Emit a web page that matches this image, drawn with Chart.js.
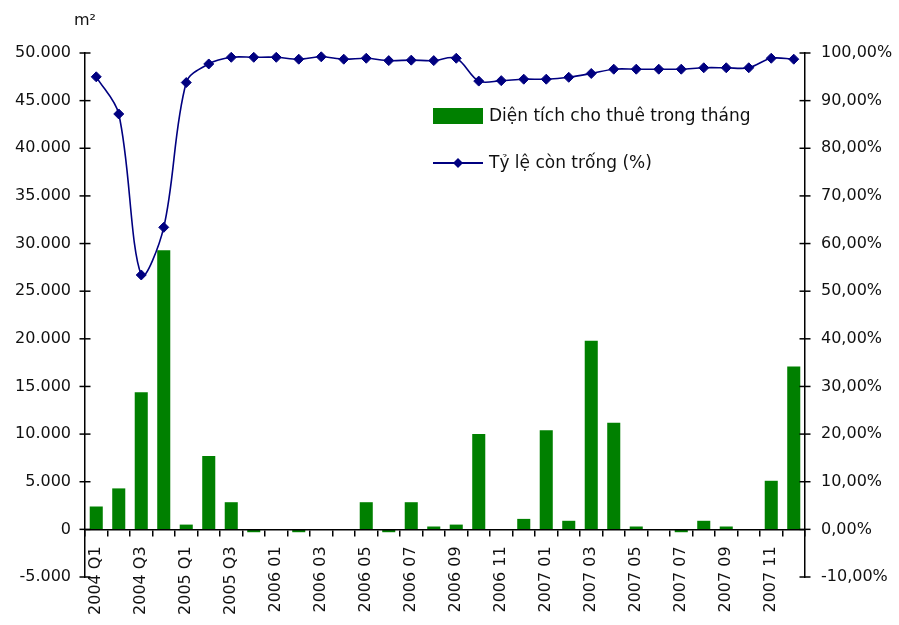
<!DOCTYPE html>
<html lang="vi">
<head>
<meta charset="utf-8">
<title>Diện tích cho thuê và tỷ lệ còn trống</title>
<script src="https://cdn.jsdelivr.net/npm/chart.js@4.4.1/dist/chart.umd.min.js"></script>
<style>
  html, body { margin: 0; padding: 0; background: #ffffff; }
  #wrap { width: 899px; height: 625px; }
</style>
</head>
<body>
<div id="wrap"><canvas id="chart" width="899" height="625"></canvas></div>
<script>
// Periods: quarterly for 2004-2005, monthly for 2006-2007
const categories = [
  '2004 Q1', '2004 Q2', '2004 Q3', '2004 Q4',
  '2005 Q1', '2005 Q2', '2005 Q3', '2005 Q4',
  '2006 01', '2006 02', '2006 03', '2006 04', '2006 05', '2006 06',
  '2006 07', '2006 08', '2006 09', '2006 10', '2006 11', '2006 12',
  '2007 01', '2007 02', '2007 03', '2007 04', '2007 05', '2007 06',
  '2007 07', '2007 08', '2007 09', '2007 10', '2007 11', '2007 12'
];

// Leased floor area in the period (m²)
const leasedArea = [
  2400, 4300, 14400, 29300,
  500, 7700, 2850, -300,
  0, -300, 0, 0, 2850, -300,
  2850, 300, 500, 10000, 0, 1100,
  10400, 900, 19800, 11200, 300, 0,
  -300, 900, 300, 0, 5100, 17100
];

// Vacancy rate (%)
const vacancyRate = [
  95.0, 87.2, 53.4, 63.4,
  93.8, 97.7, 99.1, 99.1,
  99.1, 98.7, 99.2, 98.7, 98.9, 98.4,
  98.5, 98.4, 98.9, 94.1, 94.2, 94.5,
  94.5, 94.9, 95.7, 96.6, 96.6, 96.6,
  96.6, 96.9, 96.9, 96.9, 98.9, 98.7
];

// Axis tick values
const areaTicks = [-5000, 0, 5000, 10000, 15000, 20000, 25000, 30000, 35000, 40000, 45000, 50000];
const rateTicks = [-10, 0, 10, 20, 30, 40, 50, 60, 70, 80, 90, 100];

const FONT = "'DejaVu Sans', Verdana, sans-serif";
const TEXT = '#111111';

function formatArea(v) {
  const sign = v < 0 ? '-' : '';
  const digits = String(Math.abs(v));
  return sign + digits.replace(/\B(?=(\d{3})+(?!\d))/g, '.');
}
function formatRate(v) {
  return v.toFixed(2).replace('.', ',') + '%';
}

// Small cross-ticks on both value axes
const axisTicks = {
  id: 'axisTicks',
  afterDraw(chart) {
    const ctx = chart.ctx;
    ctx.save();
    ctx.strokeStyle = '#000';
    ctx.lineWidth = 1.5;
    ['y', 'y1'].forEach(id => {
      const s = chart.scales[id];
      const x = id === 'y' ? s.right : s.left;
      s.ticks.forEach(t => {
        const py = s.getPixelForValue(t.value);
        ctx.beginPath();
        ctx.moveTo(x - 5.5, py);
        ctx.lineTo(x + 5.5, py);
        ctx.stroke();
      });
    });
    ctx.restore();
  }
};

// Unit caption above the left axis
const unitLabel = {
  id: 'unitLabel',
  afterDraw(chart, args, opts) {
    const ctx = chart.ctx;
    const s = chart.scales.y;
    ctx.save();
    ctx.fillStyle = TEXT;
    ctx.font = '16px ' + FONT;
    ctx.textAlign = 'left';
    ctx.textBaseline = 'alphabetic';
    ctx.fillText(opts.text, s.right - 11, chart.chartArea.top - 28);
    ctx.restore();
  }
};

// Legend drawn inside the plot area
const insetLegend = {
  id: 'insetLegend',
  afterDraw(chart, args, opts) {
    const { ctx, chartArea } = chart;
    const x0 = chartArea.left + opts.left;
    let y = chartArea.top + opts.top;
    ctx.save();
    ctx.font = opts.fontSize + 'px ' + FONT;
    ctx.textBaseline = 'middle';
    ctx.textAlign = 'left';
    chart.data.datasets.forEach(ds => {
      if (ds.type === 'line') {
        ctx.strokeStyle = ds.borderColor;
        ctx.lineWidth = 2;
        ctx.beginPath();
        ctx.moveTo(x0, y);
        ctx.lineTo(x0 + opts.symbolWidth, y);
        ctx.stroke();
        const cx = x0 + opts.symbolWidth / 2, r = ds.pointRadius;
        ctx.fillStyle = ds.pointBackgroundColor;
        ctx.beginPath();
        ctx.moveTo(cx, y - r);
        ctx.lineTo(cx + r, y);
        ctx.lineTo(cx, y + r);
        ctx.lineTo(cx - r, y);
        ctx.closePath();
        ctx.fill();
      } else {
        ctx.fillStyle = ds.backgroundColor;
        ctx.fillRect(x0, y - 8, opts.symbolWidth, 16);
      }
      ctx.fillStyle = TEXT;
      ctx.fillText(ds.label, x0 + opts.symbolWidth + 6, y + 1);
      y += opts.rowGap;
    });
    ctx.restore();
  }
};

Chart.defaults.font.family = FONT;
Chart.defaults.font.size = 16;
Chart.defaults.color = TEXT;

new Chart(document.getElementById('chart'), {
  type: 'bar',
  data: {
    labels: categories,
    datasets: [
      {
        type: 'bar',
        label: 'Diện tích cho thuê trong tháng',
        data: leasedArea,
        yAxisID: 'y',
        backgroundColor: '#008000',
        borderWidth: 0,
        barPercentage: 0.58,
        categoryPercentage: 1,
        order: 1
      },
      {
        type: 'line',
        label: 'Tỷ lệ còn trống (%)',
        data: vacancyRate,
        yAxisID: 'y1',
        borderColor: '#000080',
        backgroundColor: '#000080',
        borderWidth: 1.6,
        tension: 0.33,
        pointStyle: 'rectRot',
        pointRadius: 5,
        pointBackgroundColor: '#000080',
        pointBorderColor: '#000080',
        pointBorderWidth: 1,
        clip: false,
        order: 0
      }
    ]
  },
  options: {
    responsive: false,
    animation: false,
    layout: { padding: { top: 53, bottom: 48, left: 0, right: 0 } },
    plugins: {
      legend: { display: false },
      tooltip: { enabled: false },
      unitLabel: { text: 'm²' },
      insetLegend: { left: 348, top: 63, rowGap: 47, symbolWidth: 50, fontSize: 17 }
    },
    scales: {
      x: {
        position: { y: 0 },
        offset: true,
        grid: {
          display: true, drawOnChartArea: false, drawTicks: true,
          tickLength: 6, color: '#000', lineWidth: 1.5, offset: true
        },
        border: { display: true, color: '#000', width: 1.5, z: 1 },
        ticks: {
          autoSkip: false, maxRotation: 90, minRotation: 90, padding: 11,
          color: TEXT, font: { size: 16 },
          callback: (v, i) => (i % 2 === 0 ? categories[i] : '')
        }
      },
      y: {
        position: 'left',
        min: -5000, max: 50000,
        afterBuildTicks: s => { s.ticks = areaTicks.map(v => ({ value: v })); },
        afterFit: s => { s.width = 85; },
        grid: { display: false, drawTicks: false, tickLength: 0 },
        border: { display: true, color: '#000', width: 1.5 },
        ticks: { padding: 14, color: TEXT, font: { size: 16 }, callback: v => formatArea(v) }
      },
      y1: {
        position: 'right',
        min: -10, max: 100,
        afterBuildTicks: s => { s.ticks = rateTicks.map(v => ({ value: v })); },
        afterFit: s => { s.width = 94; },
        grid: { display: false, drawTicks: false, tickLength: 0 },
        border: { display: true, color: '#000', width: 1.5 },
        ticks: { padding: 16, color: TEXT, font: { size: 16 }, callback: v => formatRate(v) }
      }
    }
  },
  plugins: [axisTicks, unitLabel, insetLegend]
});
</script>
</body>
</html>
